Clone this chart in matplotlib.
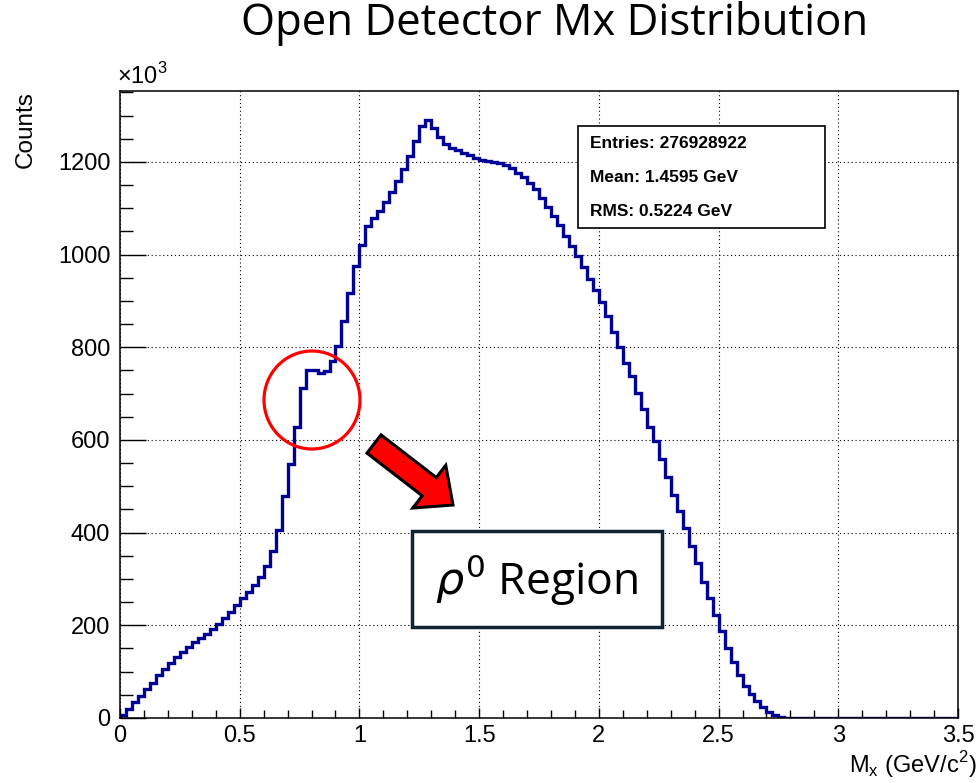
import numpy as np
import matplotlib
matplotlib.use("Agg")
import matplotlib.pyplot as plt
import matplotlib.patches as mpatches
from matplotlib.ticker import MultipleLocator

# Histogram contents (x10^3 counts), bins of 0.025 GeV from 0 to 3.5
bin_width = 0.025
counts = [
    7, 20, 34, 48, 62, 76, 92, 106, 119, 131,
    142, 153, 163, 172, 181, 192, 203, 215, 228, 243,
    258, 272, 288, 305, 328, 360, 405, 478, 548, 628,
    712, 750, 751, 745, 748, 770, 803, 857, 917, 975,
    1020, 1062, 1079, 1093, 1113, 1134, 1158, 1184, 1213, 1246,
    1278, 1290, 1273, 1253, 1239, 1231, 1226, 1220, 1215, 1208,
    1204, 1201, 1199, 1197, 1194, 1187, 1177, 1167, 1154, 1142,
    1123, 1103, 1084, 1063, 1041, 1019, 998, 973, 948, 923,
    898, 868, 834, 801, 766, 737, 701, 666, 627, 597,
    558, 519, 482, 447, 409, 372, 335, 294, 258, 223,
    187, 152, 120, 92, 70, 51, 37, 24, 14, 6,
    2,
] + [0] * 29

stats_lines = ["Entries: 276928922", "Mean: 1.4595 GeV", "RMS: 0.5224 GeV"]

W, H = 979, 783
fig = plt.figure(figsize=(W / 100, H / 100), dpi=100)
ax = fig.add_axes([120 / W, 1 - 718 / H, (958 - 120) / W, (718 - 91) / H])

edges = np.arange(len(counts) + 1) * bin_width
ax.stairs(counts, edges, color="#000099", linewidth=2.4, baseline=0)

ax.set_xlim(0, 3.5)
ax.set_ylim(0, 1353)
ax.xaxis.set_major_locator(MultipleLocator(0.5))
ax.xaxis.set_minor_locator(MultipleLocator(0.1))
ax.yaxis.set_major_locator(MultipleLocator(200))
ax.yaxis.set_minor_locator(MultipleLocator(50))
ax.set_xticks([0, 0.5, 1, 1.5, 2, 2.5, 3, 3.5])
ax.set_xticklabels(["0", "0.5", "1", "1.5", "2", "2.5", "3", "3.5"])
ax.tick_params(axis="both", which="both", direction="in", labelsize=17,
               width=1.0, colors="black")
ax.tick_params(axis="y", which="major", length=19, pad=7)
ax.tick_params(axis="y", which="minor", length=9.5)
ax.tick_params(axis="x", which="major", length=7.5, pad=5)
ax.tick_params(axis="x", which="minor", length=5.5)
for lab in ax.get_xticklabels() + ax.get_yticklabels():
    lab.set_family("Liberation Sans")
ax.grid(True, which="major", linestyle=(0, (1, 2.5)), color="black", linewidth=0.8)
ax.set_axisbelow(True)
for sp in ax.spines.values():
    sp.set_linewidth(1.1)

sans = "Liberation Sans"
ax.text(-0.112, 1.0, "Counts", rotation=90, transform=ax.transAxes,
        ha="center", va="top", fontsize=17.5, family=sans)
ax.text(1.022, -0.05, r"M$_{\mathregular{x}}$ (GeV/c$^{\mathregular{2}}$)",
        transform=ax.transAxes, ha="right", va="top", fontsize=17, family=sans)
ax.text(-0.004, 1.003, "\u00d710$^{\\mathregular{3}}$", transform=ax.transAxes,
        ha="left", va="bottom", fontsize=17, family=sans)

# stats box
fig.add_artist(mpatches.Rectangle((578 / W, 1 - 228 / H), (825 - 578) / W, (228 - 126) / H,
                                  transform=fig.transFigure, facecolor="white",
                                  edgecolor="black", linewidth=1.2, zorder=5))
for i, line in enumerate(stats_lines):
    fig.text(590 / W, 1 - (143 + 34 * i) / H, line, fontsize=12.5, fontweight="bold",
             family=sans, ha="left", va="center", zorder=6)

fig.text(555 / W, 1 - 24 / H, "Open Detector Mx Distribution", fontsize=31.5,
         family="Open Sans", ha="center", va="center")

# red circle around the rho peak
fig.add_artist(mpatches.Ellipse((312 / W, 1 - 400 / H), 96 / W, 98 / H,
                                transform=fig.transFigure, fill=False,
                                edgecolor="#ff0000", linewidth=2.3, zorder=6))

# red arrow
tr = fig.dpi_scale_trans
fig.add_artist(mpatches.FancyArrow(374 / 100, (H - 444) / 100, 79 / 100, -61 / 100,
                                   width=0.23, head_width=0.54, head_length=0.30,
                                   length_includes_head=True, transform=tr,
                                   facecolor="#ff0000", edgecolor="black",
                                   linewidth=2.2, zorder=6))

# label box
fig.add_artist(mpatches.Rectangle((412 / W, 1 - 627 / H), (662 - 412) / W, (627 - 531) / H,
                                  transform=fig.transFigure, facecolor="white",
                                  edgecolor="#0f2533", linewidth=2.5, zorder=5))
fig.text(537 / W, 1 - 580 / H, r"$\rho^{0}$ Region", fontsize=32, family="Open Sans",
         ha="center", va="center", zorder=6)

fig.savefig("out.png", dpi=100)
